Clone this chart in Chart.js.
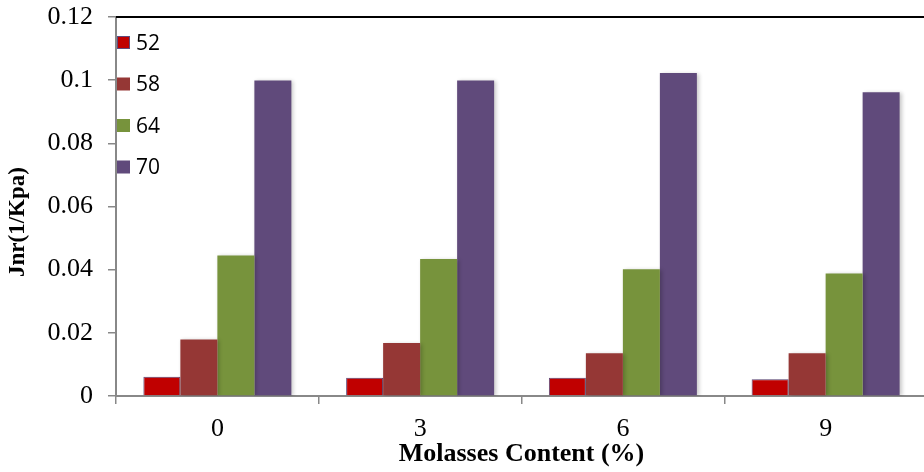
<!DOCTYPE html>
<html>
<head>
<meta charset="utf-8">
<script src="https://cdn.jsdelivr.net/npm/chart.js@4.4.1/dist/chart.umd.min.js"></script>
<style>
  html, body { margin: 0; padding: 0; background: #fff; overflow: hidden; }
  #clip { width: 924px; height: 472px; overflow: hidden; position: relative; }
  #wrap { width: 932px; height: 472px; position: absolute; left: 0; top: 0; }
</style>
</head>
<body>
<div id="clip"><div id="wrap"><canvas id="c"></canvas></div></div>
<script>
const categories = ['0', '3', '6', '9'];
const seriesNames = ['52', '58', '64', '70'];
const s52 = [0.0061, 0.0058, 0.0058, 0.0053];
const s58 = [0.0179, 0.0168, 0.0135, 0.0135];
const s64 = [0.0445, 0.0434, 0.0401, 0.0388];
const s70 = [0.0999, 0.0999, 0.1023, 0.0962];
const yTicks = [0, 0.02, 0.04, 0.06, 0.08, 0.1, 0.12];
const colors = ['#C00000', '#953735', '#77933C', '#604A7B'];
const xTitle = 'Molasses Content (%)';
const yTitle = 'Jnr(1/Kpa)';

const serif = '"Liberation Serif", "Times New Roman", serif';

const shadowPlugin = {
  id: 'shadow',
  beforeDatasetsDraw(chart) {
    const ctx = chart.ctx;
    ctx.save();
    ctx.shadowColor = 'rgba(0,0,0,0.22)';
    ctx.shadowBlur = 4;
    ctx.shadowOffsetX = 2;
    ctx.shadowOffsetY = 1;
  },
  afterDatasetsDraw(chart) {
    chart.ctx.restore();
  }
};

const framePlugin = {
  id: 'frame',
  afterDraw(chart) {
    const {ctx, chartArea} = chart;
    ctx.save();
    ctx.strokeStyle = '#000';
    ctx.lineWidth = 2;
    ctx.beginPath();
    ctx.moveTo(chartArea.left, chartArea.top);
    ctx.lineTo(chart.width, chartArea.top);
    ctx.stroke();
    // y axis title
    ctx.save();
    ctx.translate(18, 222);
    ctx.rotate(-Math.PI / 2);
    ctx.font = 'bold 23px ' + serif;
    ctx.fillStyle = '#000';
    ctx.textAlign = 'center';
    ctx.textBaseline = 'middle';
    ctx.fillText(yTitle, 0, 0);
    ctx.restore();
    // legend
    const items = chart.data.datasets;
    const startY = chartArea.top + 26;
    const step = 41.5;
    ctx.font = '21px "Open Sans", "Liberation Sans", sans-serif';
    ctx.textBaseline = 'middle';
    items.forEach((ds, i) => {
      const cy = startY + i * step;
      ctx.fillStyle = ds.backgroundColor;
      ctx.fillRect(chartArea.left + 1, cy - 7, 13, 13);
      if (ds.borderWidth) {
        ctx.strokeStyle = ds.borderColor;
        ctx.lineWidth = 1;
        ctx.strokeRect(chartArea.left + 1.5, cy - 6.5, 12, 12);
      }
      ctx.fillStyle = '#000';
      ctx.fillText(ds.label, chartArea.left + 20, cy + 1);
    });
    ctx.restore();
  }
};

new Chart(document.getElementById('c'), {
  type: 'bar',
  data: {
    labels: categories,
    datasets: [
      { label: seriesNames[0], data: s52, backgroundColor: colors[0], borderColor: '#604A7B', borderWidth: 1 },
      { label: seriesNames[1], data: s58, backgroundColor: colors[1], borderWidth: 0 },
      { label: seriesNames[2], data: s64, backgroundColor: colors[2], borderWidth: 0 },
      { label: seriesNames[3], data: s70, backgroundColor: colors[3], borderWidth: 0 }
    ]
  },
  plugins: [shadowPlugin, framePlugin],
  options: {
    responsive: true,
    maintainAspectRatio: false,
    animation: false,
    layout: { padding: { top: 17, right: 5, left: 0, bottom: 0 } },
    datasets: { bar: { categoryPercentage: 0.73, barPercentage: 1.0 } },
    plugins: { legend: { display: false }, tooltip: { enabled: false } },
    scales: {
      x: {
        grid: { display: true, drawOnChartArea: false, drawTicks: true, tickLength: 8, color: '#888', lineWidth: 1.5 },
        border: { display: true, color: '#888', width: 2 },
        ticks: { color: '#000', font: { family: serif, size: 26 }, padding: 10, maxRotation: 0 },
        title: { display: true, text: xTitle, color: '#000', font: { family: serif, size: 26, weight: 'bold' }, padding: { top: 0, bottom: 2 } },
        afterFit(s) { s.height = 76; s.paddingLeft = 0; s.paddingRight = 0; }
      },
      y: {
        min: 0, max: 0.12,
        afterBuildTicks(s) { s.ticks = yTicks.map(v => ({ value: v })); },
        grid: { display: true, drawOnChartArea: false, drawTicks: true, tickLength: 8, color: '#888', lineWidth: 1.5 },
        border: { display: true, color: '#888', width: 2 },
        ticks: { color: '#000', font: { family: serif, size: 26 }, padding: 15,
          callback: v => String(parseFloat(Number(v).toFixed(2))) },
        title: { display: false },
        afterFit(s) { s.width = 116; s.paddingTop = 0; s.paddingBottom = 0; }
      }
    }
  }
});
</script>
</body>
</html>
